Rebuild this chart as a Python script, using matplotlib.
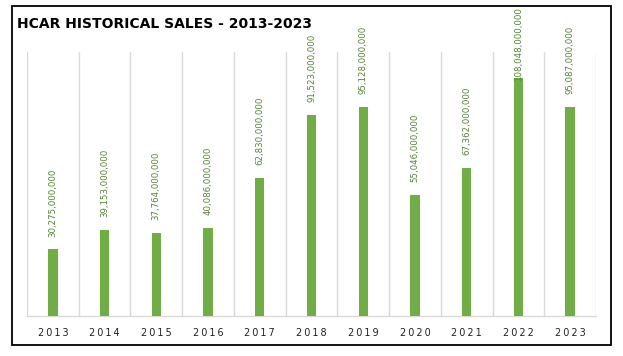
import matplotlib
matplotlib.use("Agg")
import matplotlib.pyplot as plt
from matplotlib.patches import Rectangle

years = ["2013", "2014", "2015", "2016", "2017", "2018", "2019", "2020", "2021", "2022", "2023"]
sales = [30275000000, 39153000000, 37764000000, 40086000000, 62830000000,
         91523000000, 95128000000, 55046000000, 67362000000, 108048000000, 95087000000]
title = "HCAR HISTORICAL SALES - 2013-2023"

GREEN = "#70AD47"
LABEL = "#548235"
GRID = "#D9D9D9"

W, H = 623, 356
fig = plt.figure(figsize=(W/100, H/100), dpi=100)
ax = fig.add_axes([27/W, 1-316/H, (596-27)/W, (316-52)/H])

x = list(range(len(years)))
ax.bar(x, sales, width=0.18, color=GREEN, zorder=3)
ax.set_xlim(-0.5, len(years)-0.5)
ax.set_ylim(0, 120e9)

for b in [i - 0.5 for i in range(len(years)+1)]:
    ax.axvline(b, color=GRID, lw=1, zorder=1)

spaced = ["\u2009".join(y) for y in years]
ax.set_xticks(x)
ax.set_xticklabels(spaced, fontsize=7, color="#222222")
ax.tick_params(axis="x", length=0, pad=9)
ax.set_yticks([])
for s in ["top", "right", "left"]:
    ax.spines[s].set_visible(False)
ax.spines["bottom"].set_color(GRID)
ax.spines["bottom"].set_linewidth(1)

fig.canvas.draw()
renderer = fig.canvas.get_renderer()
top_limit = H - 7  # display pixels (from bottom)
for xi, v in zip(x, sales):
    t = ax.annotate(f"{v:,}", xy=(xi, v), xytext=(0, 9), textcoords="offset points",
                    rotation=90, ha="center", va="bottom", fontsize=6.2, color=LABEL,
                    annotation_clip=False, zorder=4)
    bb = t.get_window_extent(renderer)
    if bb.y1 > top_limit:
        shift = bb.y1 - top_limit
        t.set_position((0, 9 - shift * 72 / fig.dpi))

fig.text(17/W, 1-28/H, title,
         fontsize=10, fontweight="bold", color="black", ha="left", va="baseline")

fig.patches.append(Rectangle((12/W, 1-345/H), (611-12)/W, (345-6)/H,
                             transform=fig.transFigure, fill=False, edgecolor="black",
                             linewidth=1.3, zorder=10))

fig.savefig("out.png", dpi=100)
